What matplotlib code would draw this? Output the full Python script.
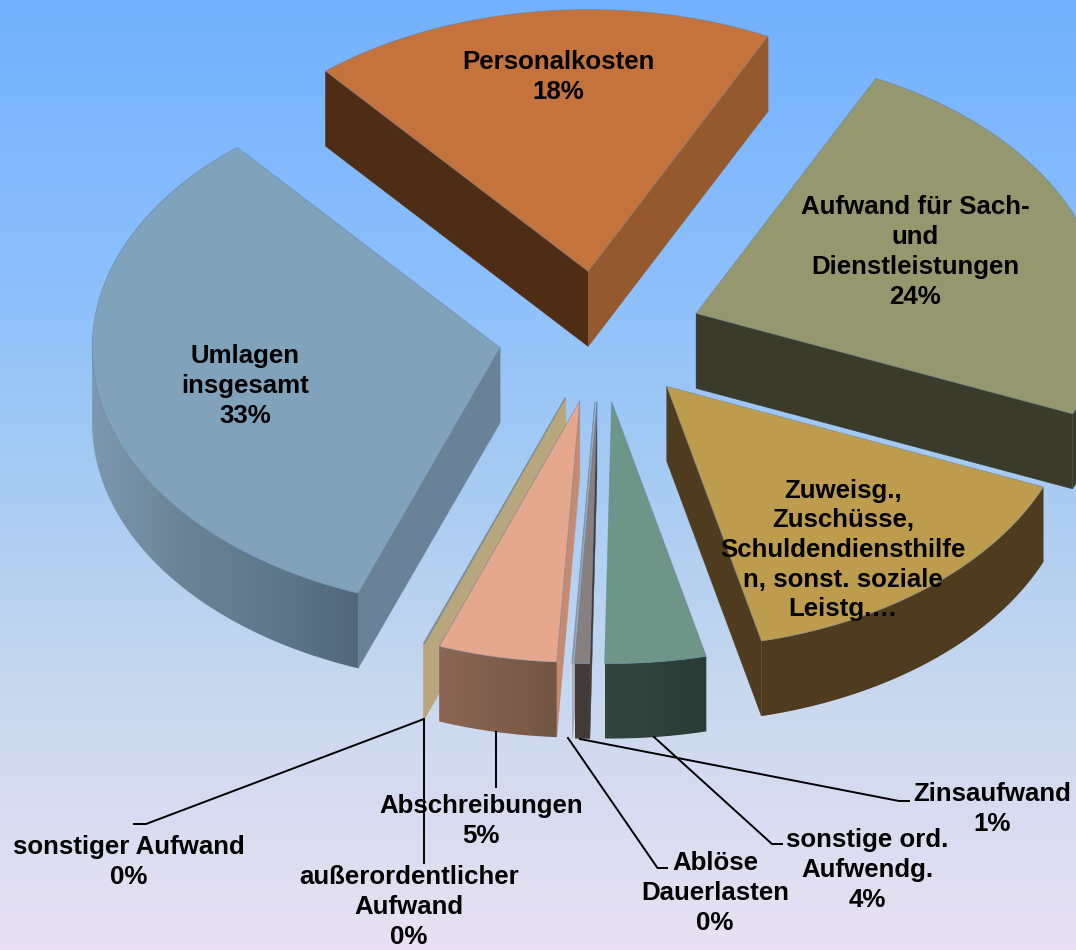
import numpy as np
import matplotlib
matplotlib.use('Agg')
import matplotlib.pyplot as plt
from matplotlib.colors import LinearSegmentedColormap
from matplotlib.patches import Polygon

plt.rcParams['font.family'] = ['Liberation Sans', 'DejaVu Sans']

# shares in percent, clockwise from the start angle
names = ["Personalkosten", "Aufwand für Sach- und Dienstleistungen", "Zuweisg.", "sonstige ord. Aufwendg.",
         "Zinsaufwand", "Ablöse Dauerlasten", "Abschreibungen", "außerordentlicher Aufwand",
         "sonstiger Aufwand", "Umlagen insgesamt"]
shares = [18.4, 24.0, 15.0, 4.0, 0.6, 0.03, 4.7, 0.02, 0.03, 33.2]

top_colors = ['#C4733C', '#95976E', '#BE9C4E', '#6D9688', '#87807E', '#A3AAB8', '#E5A78E', '#B8A67C', '#B8A67C', '#81A2BB']
wall_start = ['#4F2C14', '#3A3B2A', '#4F3C1E', '#33443F', '#443A38', '#A3AAB8', '#C58A72', '#B8A67C', '#B8A67C', '#6A8297']
wall_end = ['#945A2E', '#3A3B2A', '#4F3C1E', '#33443F', '#443A38', '#A3AAB8', '#735544', '#B8A67C', '#B8A67C', '#6A8297']
arc_colors = [['#4F2C14', '#4F2C14'], ['#3A3B2A', '#3A3B2A'], ['#4F3C1E', '#4F3C1E'], ['#34463F', '#2B3C36'],
              ['#443A38', '#443A38'], ['#A3AAB8', '#A3AAB8'], ['#8C6654', '#735544'], ['#B8A67C', '#B8A67C'],
              ['#B8A67C', '#B8A67C'], ['#7C99AF', '#6B8397', '#5E788C', '#52677A']]

labels = ["Personalkosten\n18%", "Aufwand für Sach-\nund\nDienstleistungen\n24%",
          "Zuweisg.,\nZuschüsse,\nSchuldendiensthilfe\nn, sonst. soziale\nLeistg.…",
          "sonstige ord.\nAufwendg.\n4%", "Zinsaufwand\n1%", "Ablöse\nDauerlasten\n0%", "Abschreibungen\n5%",
          "außerordentlicher\nAufwand\n0%", "sonstiger Aufwand\n0%", "Umlagen\ninsgesamt\n33%"]
label_x = [558, 915, 843, 867, 992, 715, 481, 409, 129, 245]
label_y = [77, 252, 550, 870, 809, 893, 821, 907, 862, 386]

# leader lines, pixel positions
leaders = [[(134, 824), (146, 824), (424, 719)],
           [(424, 719), (424, 863)],
           [(495.5, 732), (495.5, 787)],
           [(568, 738), (657.5, 868), (667, 868)],
           [(654, 737), (772, 844), (782, 844)],
           [(580, 739), (899, 801), (909, 801)]]

bg_pos = [0, 0.3, 0.5, 0.75, 1]
bg_cols = ['#73B1FF', '#8DC0FC', '#A6CBF3', '#CBD9EE', '#E9E1F3']

START = 130.1
CX, CY = 600.6, 336.5
R = 408
SQUASH = 0.642
DEPTH = 75
EXPLODE = 102
# back to front
draw_order = [0, 1, 9, 2, 8, 7, 6, 5, 4, 3]

fig = plt.figure(figsize=(10.76, 9.5), dpi=100)
ax = fig.add_axes([0, 0, 1, 1])
ax.axis('off')

bg_cmap = LinearSegmentedColormap.from_list('bg', list(zip(bg_pos, bg_cols)))
ax.imshow(np.linspace(0, 1, 256).reshape(-1, 1), cmap=bg_cmap, extent=[0, 1076, 950, 0], aspect='auto', zorder=0)

total = sum(shares)
sweeps = [s / total * 360 for s in shares]
starts = START - np.concatenate([[0], np.cumsum(sweeps)[:-1]])
edge = (0.36, 0.48, 0.62, 0.5)

for z, i in enumerate(draw_order):
    a0 = starts[i]
    a1 = a0 - sweeps[i]
    mid = np.radians((a0 + a1) / 2)
    ox = CX + EXPLODE * np.cos(mid)
    oy = CY - EXPLODE * np.sin(mid) * SQUASH

    n = max(int(sweeps[i] * 2), 2)
    th = np.radians(np.linspace(a0, a1, n))
    xs = ox + R * np.cos(th)
    ys = oy - R * np.sin(th) * SQUASH
    base = z * 3 + 2

    # cut walls, only the ones facing the viewer
    if np.cos(np.radians(a0)) < 0:
        ax.fill([ox, xs[0], xs[0], ox], [oy, ys[0], ys[0] + DEPTH, oy + DEPTH],
                color=wall_start[i], lw=0.3, zorder=base)
    if np.cos(np.radians(a1)) > 0:
        ax.fill([ox, xs[-1], xs[-1], ox], [oy, ys[-1], ys[-1] + DEPTH, oy + DEPTH],
                color=wall_end[i], lw=0.3, zorder=base)

    # outer rim, gradient image clipped to the rim shape
    front = np.sin(th) < 0
    if front.sum() > 1:
        cmap = LinearSegmentedColormap.from_list('arc', arc_colors[i])
        xf, yf = xs[front], ys[front]
        rim = Polygon(np.c_[np.r_[xf, xf[::-1]], np.r_[yf, yf[::-1] + DEPTH]], closed=True,
                      transform=ax.transData, fc='none', ec='none')
        ax.add_patch(rim)
        im = ax.imshow(np.linspace(0, 1, 256).reshape(1, -1), cmap=cmap, aspect='auto', zorder=base + 1,
                       extent=[xf.min(), xf.max(), yf.max() + DEPTH, yf.min()])
        im.set_clip_path(rim)

    ax.fill(np.r_[ox, xs], np.r_[oy, ys], facecolor=top_colors[i], edgecolor=edge, lw=0.6, zorder=base + 2)

for pts in leaders:
    ax.plot([p[0] for p in pts], [p[1] for p in pts], color='black', lw=1.4, zorder=50, solid_joinstyle='miter')

for txt, x, y in zip(labels, label_x, label_y):
    ax.text(x, y, txt, ha='center', va='center', ma='center', fontsize=18.6, fontweight='bold',
            color='black', linespacing=1.3, zorder=60)

ax.set_xlim(0, 1076)
ax.set_ylim(950, 0)

plt.savefig('out.png', dpi=100)
plt.close()
